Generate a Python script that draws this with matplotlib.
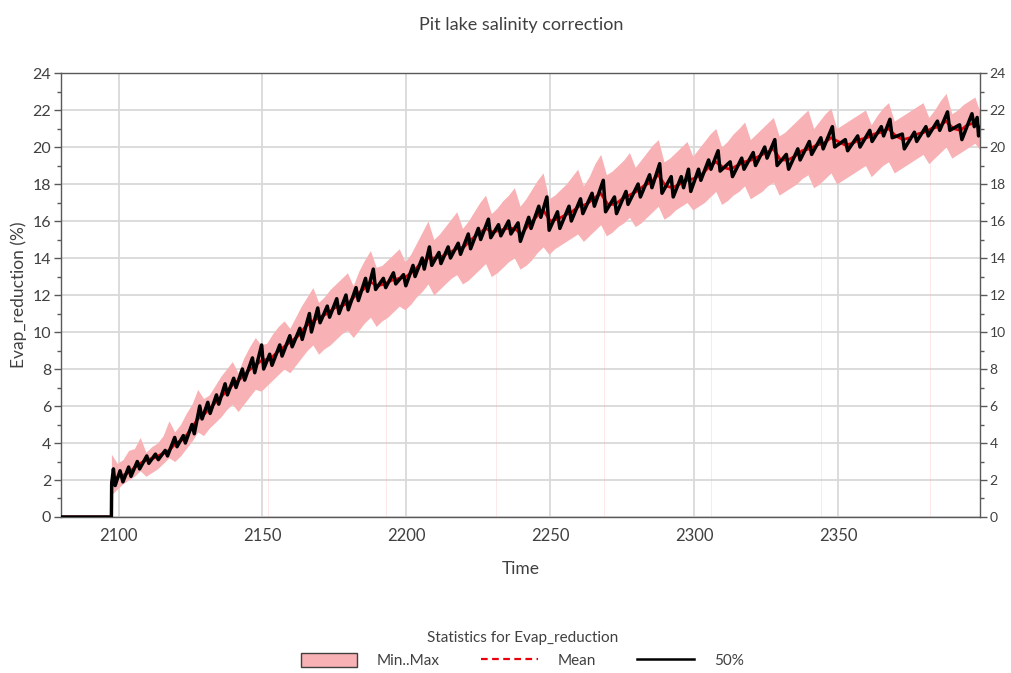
import numpy as np
import matplotlib
matplotlib.use("Agg")
import matplotlib.pyplot as plt
from matplotlib.patches import Patch
from matplotlib.lines import Line2D
from matplotlib.ticker import MultipleLocator

plt.rcParams['font.family'] = ['Lato', 'DejaVu Sans']

# Min..Max band, sampled every 2 years from 2097.5
band_start = 2097.5
band_step = 2.0
band_max = [
    3.4, 2.9, 3.1, 3.6, 3.7, 4.3, 3.5, 3.8, 4.0, 4.4,
    5.2, 4.6, 5.0, 5.6, 6.1, 6.9, 6.4, 6.6, 7.1, 7.6,
    8.0, 8.4, 7.8, 8.6, 9.2, 9.7, 9.3, 9.4, 9.9, 10.3,
    10.6, 10.2, 10.8, 11.4, 11.9, 12.4, 11.6, 11.9, 12.3, 12.6,
    12.9, 13.2, 12.5, 13.3, 13.9, 14.4, 13.5, 13.6, 13.9, 14.2,
    14.5, 13.8, 14.2, 14.8, 15.4, 16.0, 15.0, 15.3, 15.7, 16.1,
    16.5, 15.6, 16.0, 16.5, 17.0, 17.4, 16.4, 16.7, 17.1, 17.4,
    17.8, 16.8, 17.2, 17.7, 18.2, 18.6, 17.2, 17.4, 17.7, 18.0,
    18.4, 18.8, 17.9, 18.4, 19.1, 19.6, 18.5, 18.7, 19.0, 19.3,
    19.7, 18.9, 19.3, 19.7, 20.1, 20.4, 19.2, 19.4, 19.7, 20.0,
    20.3, 19.5, 19.9, 20.3, 20.7, 21.0, 20.0, 20.3, 20.7, 21.0,
    21.35, 20.4, 20.7, 21.0, 21.3, 21.6, 20.6, 20.8, 21.1, 21.4,
    21.7, 22.0, 21.0, 21.4, 21.8, 22.1, 21.0, 21.2, 21.4, 21.6,
    21.8, 22.0, 21.2, 21.7, 22.1, 22.4, 21.4, 21.6, 21.8, 22.0,
    22.2, 22.4, 21.6, 22.0, 22.5, 22.9, 21.8, 22.0, 22.3, 22.5,
    22.7, 21.8,
]
band_min = [
    1.2, 1.5, 1.8, 2.0, 2.2, 2.5, 2.2, 2.4, 2.6, 2.9,
    3.2, 3.0, 3.3, 3.7, 4.1, 4.6, 4.4, 4.8, 5.1, 5.4,
    5.8, 6.1, 5.7, 6.1, 6.5, 6.9, 6.8, 7.1, 7.4, 7.7,
    8.0, 7.8, 8.2, 8.6, 9.0, 9.3, 8.8, 9.1, 9.3, 9.6,
    9.9, 10.1, 9.7, 10.1, 10.5, 10.8, 10.3, 10.6, 10.8, 11.1,
    11.4, 11.2, 11.5, 11.9, 12.2, 12.6, 12.0, 12.3, 12.6, 12.9,
    13.1, 12.6, 12.8, 13.1, 13.4, 13.7, 13.0, 13.2, 13.5, 13.8,
    14.0, 13.4, 13.6, 13.9, 14.3, 14.6, 14.2, 14.5, 14.7, 14.9,
    15.1, 15.3, 14.9, 15.2, 15.5, 15.8, 15.2, 15.4, 15.7, 15.9,
    16.2, 15.7, 15.9, 16.2, 16.5, 16.8, 16.1, 16.3, 16.6, 16.8,
    17.0, 16.6, 16.8, 17.0, 17.3, 17.6, 16.9, 17.1, 17.4, 17.6,
    17.9, 17.2, 17.4, 17.6, 17.9, 18.1, 17.4, 17.6, 17.8, 18.0,
    18.3, 18.5, 17.8, 18.0, 18.3, 18.6, 18.0, 18.2, 18.4, 18.6,
    18.8, 19.0, 18.4, 18.7, 19.0, 19.2, 18.6, 18.8, 19.0, 19.2,
    19.4, 19.6, 19.1, 19.4, 19.7, 20.0, 19.4, 19.6, 19.8, 20.0,
    20.2, 19.8,
]

# faint single-step dips of the minimum
dip_years = [2152, 2193, 2231, 2268.5, 2306, 2344, 2382]

# Mean, every 2.5 years from 2097.5
mean_start = 2097.5
mean_step = 2.5
mean_vals = [
    1.9, 2.2, 2.3, 2.6, 2.9, 3.1, 3.2, 3.4, 3.6, 4.0,
    4.2, 4.7, 5.3, 5.6, 6.0, 6.4, 6.8, 7.2, 7.5, 7.9,
    8.2, 8.5, 8.5, 8.9, 9.2, 9.5, 9.8, 10.3, 10.6, 10.8,
    11.0, 11.3, 11.4, 11.6, 12.0, 12.3, 12.7, 12.5, 12.6, 12.8,
    12.9, 13.0, 13.3, 13.7, 14.0, 14.0, 14.1, 14.3, 14.5, 14.6,
    15.0, 15.3, 15.6, 15.4, 15.5, 15.6, 15.6, 15.3, 15.8, 16.2,
    16.6, 16.0, 16.1, 16.3, 16.5, 16.8, 16.9, 17.2, 17.5, 16.9,
    16.9, 17.2, 17.4, 17.6, 17.9, 18.1, 18.5, 17.9, 17.8, 18.0,
    18.2, 18.3, 18.5, 18.9, 19.2, 18.9, 18.8, 19.0, 19.2, 19.3,
    19.5, 19.7, 19.9, 19.3, 19.3, 19.5, 19.8, 19.9, 20.1, 20.2,
    20.5, 20.3, 20.1, 20.2, 20.4, 20.5, 20.7, 20.8, 21.0, 20.6,
    20.4, 20.5, 20.7, 20.8, 21.0, 21.1, 21.4, 21.0, 20.9, 21.2,
    21.3, 21.0,
]

# 50% percentile, sawtooth vertices (year, value)
median_pts = [
    (2080, 0), (2097.5, 0), (2097.6, 1.8), (2098.2, 2.6), (2098.8, 1.7),
    (2100.5, 2.5), (2101.5, 1.9), (2103.5, 2.7), (2104.3, 2.2), (2106.5, 3.0),
    (2107.3, 2.6), (2109.8, 3.3), (2110.5, 2.9), (2112.8, 3.4), (2113.8, 3.1),
    (2116.2, 3.6), (2117, 3.3), (2119.5, 4.3), (2120.3, 3.8), (2122.5, 4.4),
    (2123.2, 4.0), (2125.5, 5.0), (2126.3, 4.5), (2128.2, 6.0), (2129, 5.3),
    (2131, 6.2), (2131.8, 5.6), (2134, 6.6), (2134.8, 6.1), (2137, 7.2),
    (2137.8, 6.6), (2140, 7.5), (2140.8, 7.0), (2143, 8.0), (2143.8, 7.4),
    (2146.5, 8.6), (2147.3, 7.8), (2149.7, 9.3), (2150.4, 8.0), (2152.5, 8.8),
    (2153.3, 8.2), (2156, 9.3), (2156.8, 8.7), (2159.5, 9.8), (2160.3, 9.2),
    (2163, 10.2), (2163.8, 9.6), (2166.3, 11.0), (2167, 10.0), (2169.2, 11.3),
    (2170, 10.5), (2172.5, 11.4), (2173.3, 10.8), (2175.8, 11.8), (2176.6, 11.0),
    (2179, 12.0), (2179.8, 11.2), (2182.5, 12.4), (2183.3, 11.7), (2185.8, 12.9),
    (2186.5, 12.2), (2188.5, 13.4), (2189.3, 12.3), (2192, 12.9), (2192.8, 12.4),
    (2195.5, 13.2), (2196.3, 12.6), (2199, 13.1), (2199.8, 12.5), (2202.3, 13.6),
    (2203, 13.0), (2205.5, 14.0), (2206.2, 13.4), (2208, 14.6), (2208.8, 13.6),
    (2211.3, 14.3), (2212, 13.7), (2214.5, 14.6), (2215.3, 14.0), (2218, 14.8),
    (2218.8, 14.2), (2221.5, 15.3), (2222.3, 14.5), (2225, 15.6), (2225.8, 15.0),
    (2228.5, 16.1), (2229.3, 15.1), (2232, 15.8), (2232.8, 15.2), (2235.5, 16.0),
    (2236.3, 15.3), (2238.8, 15.9), (2239.6, 14.9), (2242.5, 16.2), (2243.3, 15.6),
    (2246, 16.8), (2246.7, 16.2), (2248.8, 17.3), (2249.6, 15.5), (2252.5, 16.5),
    (2253.3, 15.6), (2256.5, 16.8), (2257.3, 16.0), (2260.5, 17.2), (2261.3, 16.4),
    (2264.5, 17.5), (2265.3, 16.8), (2268.4, 18.2), (2269.2, 16.5), (2272.3, 17.3),
    (2273, 16.4), (2276.3, 17.6), (2277, 16.9), (2280.5, 18.0), (2281.3, 17.3),
    (2284.5, 18.5), (2285.3, 17.8), (2288, 19.1), (2288.8, 17.5), (2292, 18.4),
    (2292.7, 17.3), (2295.5, 18.4), (2296.3, 17.8), (2298, 18.8), (2298.8, 17.6),
    (2301.5, 18.8), (2302.3, 18.2), (2305, 19.3), (2305.8, 18.8), (2308.3, 19.8),
    (2309, 18.7), (2312.5, 19.2), (2313.3, 18.4), (2316.5, 19.4), (2317.3, 18.8),
    (2320.5, 19.7), (2321.3, 19.0), (2324.5, 20.0), (2325.3, 19.4), (2328, 20.4),
    (2328.8, 19.0), (2332, 19.6), (2332.8, 18.8), (2336, 19.9), (2336.8, 19.3),
    (2340, 20.3), (2340.8, 19.6), (2344, 20.5), (2344.8, 19.9), (2348, 21.1),
    (2348.8, 20.0), (2352.5, 20.4), (2353.3, 19.8), (2356.8, 20.6), (2357.6, 20.0),
    (2361, 20.9), (2361.8, 20.3), (2365, 21.1), (2365.8, 20.6), (2368, 21.5),
    (2368.8, 20.5), (2372.3, 20.7), (2373, 19.9), (2376.5, 20.8), (2377.3, 20.3),
    (2380.5, 21.1), (2381.3, 20.6), (2384.5, 21.4), (2385.3, 20.9), (2388, 21.9),
    (2388.8, 20.9), (2392.2, 21.2), (2393, 20.4), (2396.5, 21.8), (2397.3, 21.1),
    (2398.3, 21.6), (2398.8, 20.6), (2399.3, 21.0),
]

band_t = band_start + band_step * np.arange(len(band_max))
mean_t = mean_start + mean_step * np.arange(len(mean_vals))
mean_t = np.concatenate([[2080, 2097.5], mean_t])
mean_v = np.concatenate([[0, 0], mean_vals])
med_t = np.array([p[0] for p in median_pts])
med_v = np.array([p[1] for p in median_pts])

pink = '#f8b1b4'
txt = '#404040'

fig = plt.figure(figsize=(10.12, 6.73), dpi=100)
ax = fig.add_axes([0.0603, 0.2318, 0.9081, 0.6597])

ax.fill_between(band_t, band_min, band_max, color=pink, linewidth=0, zorder=2)
dip_lo = np.interp(dip_years, band_t, band_min)
ax.vlines(dip_years, 0, dip_lo, color=pink, linewidth=0.6, alpha=0.35, zorder=2)
ax.plot(mean_t, mean_v, color='#e8000b', linewidth=2.0, zorder=3)
ax.plot(med_t, med_v, color='black', linewidth=2.5, zorder=4)

ax.set_xlim(2080, 2399.3)
ax.set_ylim(0, 24)
ax.set_xticks([2100, 2150, 2200, 2250, 2300, 2350])
ax.yaxis.set_major_locator(MultipleLocator(2))
ax.yaxis.set_minor_locator(MultipleLocator(1))
ax.grid(True, which='major', color='#d9d9d9', linewidth=1.3, zorder=0)
ax.set_axisbelow(True)

for s in ax.spines.values():
    s.set_color('#595959')
    s.set_linewidth(1.0)

ax.tick_params(axis='x', length=0, pad=8, labelsize=12, colors=txt)
ax.tick_params(axis='y', which='major', length=5, width=1, color='#595959',
               labelsize=11.5, labelcolor=txt, left=True, right=True,
               labelleft=True, labelright=True, direction='out', pad=2)
ax.tick_params(axis='y', which='minor', length=3, width=1, color='#595959',
               left=True, right=True, direction='out')
for t in ax.yaxis.get_major_ticks():
    t.label2.set_fontsize(10)

ax.set_xlabel('Time', fontsize=12.5, color=txt, labelpad=12)
ax.set_ylabel('Evap_reduction (%)', fontsize=12.5, color=txt, labelpad=4)
fig.suptitle('Pit lake salinity correction', x=0.515, y=0.975, fontsize=13, color=txt)

handles = [
    Patch(facecolor=pink, edgecolor='#404040', linewidth=1.0),
    Line2D([], [], color='#e8000b', linestyle=(0, (3, 2)), linewidth=1.6),
    Line2D([], [], color='black', linewidth=1.8),
]
leg = fig.legend(handles, ['Min..Max', 'Mean', '50%'], loc='center',
                 bbox_to_anchor=(0.516, 0.035), ncol=3, frameon=False,
                 fontsize=11, handlelength=3.7, handleheight=1.1,
                 handletextpad=1.3, columnspacing=2.7,
                 title='Statistics for Evap_reduction', title_fontsize=11)
for t in leg.get_texts():
    t.set_color(txt)
leg.get_title().set_color(txt)

fig.savefig('out.png', dpi=100)
